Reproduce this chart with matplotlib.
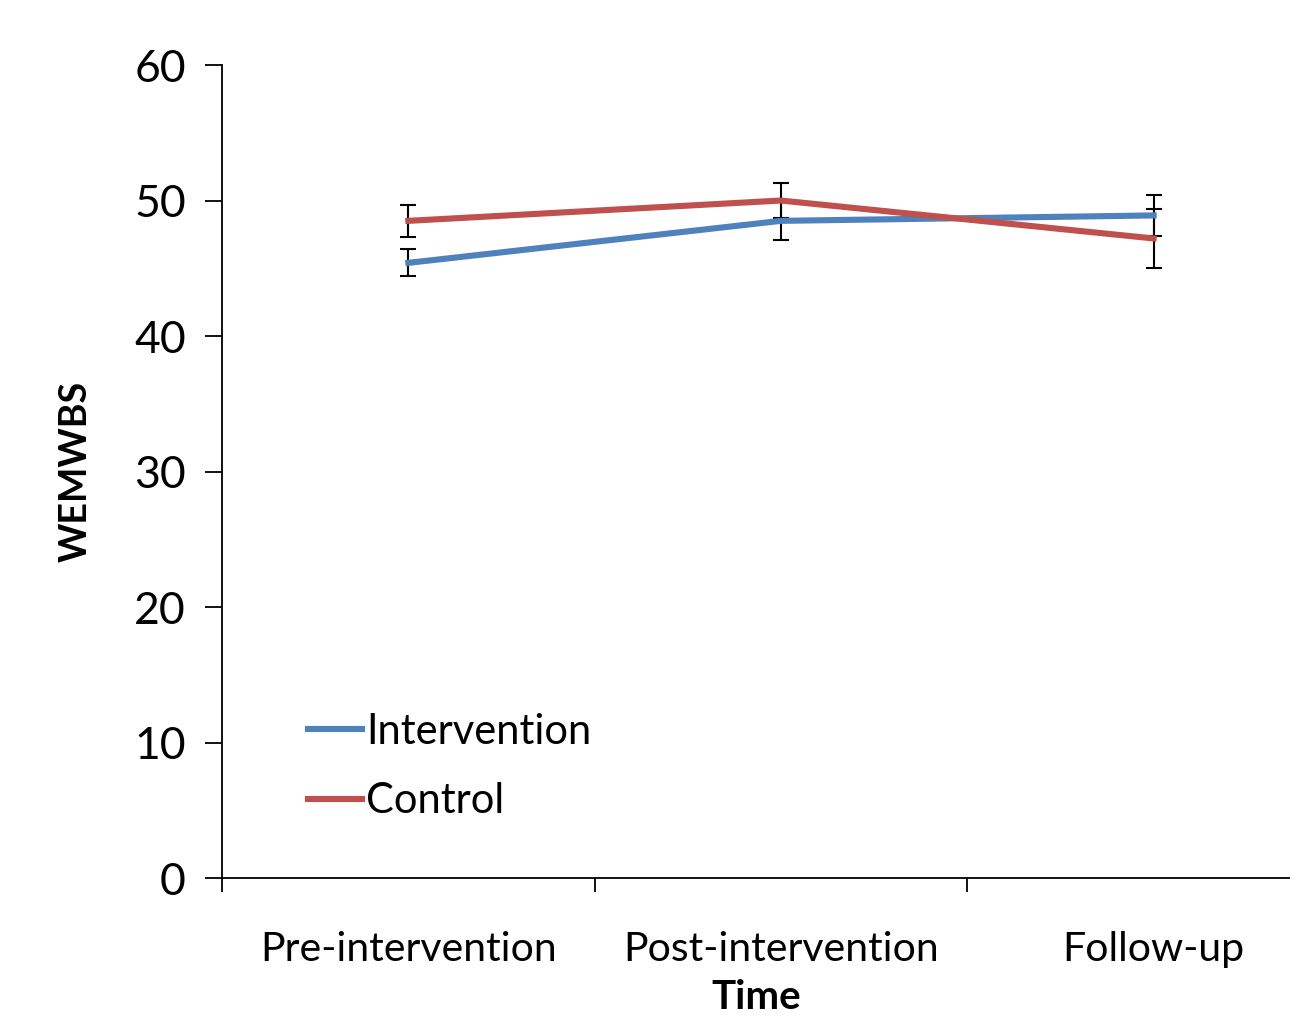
import matplotlib
matplotlib.use("Agg")
import matplotlib.pyplot as plt
from matplotlib.lines import Line2D

# data
time_points = ["Pre-intervention", "Post-intervention", "Follow-up"]
intervention = [45.4, 48.5, 48.9]
intervention_err = [1.0, 1.4, 1.5]
control = [48.5, 50.0, 47.2]
control_err = [1.2, 1.3, 2.2]

blue = '#4F81BD'
red = '#C0504D'

plt.rcParams['font.family'] = ['Lato', 'DejaVu Sans']

fig = plt.figure(figsize=(12.9, 10.16), dpi=100)
ax = fig.add_axes([0.1721, 0.1358, 0.8279, 0.8002])

x = list(range(len(time_points)))
ax.errorbar(x, intervention, yerr=intervention_err, color=blue, lw=4.4,
            ecolor='black', elinewidth=1.5, capsize=6, capthick=1.5, zorder=3)
ax.errorbar(x, control, yerr=control_err, color=red, lw=4.4,
            ecolor='black', elinewidth=1.5, capsize=6, capthick=1.5, zorder=3)

ax.set_xlim(-0.5, 2.366)
ax.set_ylim(0, 60)
ax.set_yticks(range(0, 61, 10))
ax.set_xticks(x)
ax.set_xticklabels(time_points)
ax.set_xticks([-0.5, 0.5, 1.5], minor=True)
ax.tick_params(axis='x', which='major', length=0, pad=38, labelsize=29.5)
ax.tick_params(axis='x', which='minor', length=10, width=1.3, direction='out')
ax.tick_params(axis='y', length=12, width=1.3, pad=14, labelsize=32)

for s in ['top', 'right']:
    ax.spines[s].set_visible(False)
for s in ['left', 'bottom']:
    ax.spines[s].set_linewidth(1.3)

ax.set_ylabel('WEMWBS', fontsize=27, fontweight='bold', labelpad=30)
ax.set_xlabel('Time', fontsize=29, fontweight='bold', labelpad=8)

handles = [Line2D([], [], color=blue, lw=4.4), Line2D([], [], color=red, lw=4.4)]
ax.legend(handles, ['Intervention', 'Control'], loc='lower left',
          bbox_to_anchor=(0.045, 0.025), frameon=False, fontsize=30,
          handlelength=1.3, handletextpad=0.1, labelspacing=0.75)

fig.savefig('out.png', dpi=100)
